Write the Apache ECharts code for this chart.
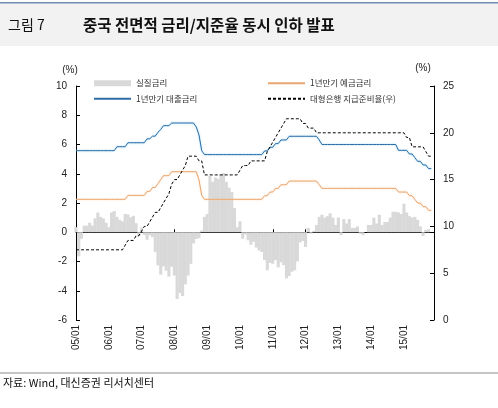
<!DOCTYPE html>
<html>
<head>
<meta charset="utf-8">
<script src="https://cdn.jsdelivr.net/npm/echarts@6.0.0/dist/echarts.min.js"></script>
<style>
  html, body { margin: 0; padding: 0; background: #fff; }
  #chart { width: 498px; height: 408px; }
</style>
</head>
<body>
<div id="chart"></div>
<script>
// 월별 데이터: 2005/01 ~ 2015/11 (2015/12 는 빈칸)
var years = ['05','06','07','08','09','10','11','12','13','14','15'];
var months = ['01','02','03','04','05','06','07','08','09','10','11','12'];

// 실질금리 (1년 예금금리 - CPI)
var realRate = [
  0.35, -1.65, -0.45, 0.45, 0.45, 0.65, 0.45, 0.95, 1.35, 1.05, 0.95, 0.65,
  0.35, 1.35, 1.45, 1.05, 0.85, 0.75, 1.25, 1.22, 1.02, 1.12, 0.62, -0.28,
  0.32, -0.18, -0.51, -0.21, -0.34, -1.34, -2.27, -2.90, -2.33, -2.63, -3.03, -2.36,
  -2.96, -4.56, -4.16, -4.36, -3.56, -2.96, -2.16, -0.76, -0.46, -0.40, 0.12, 1.05,
  1.25, 3.85, 3.45, 3.75, 3.65, 3.95, 4.05, 3.45, 3.05, 2.75, 1.65, 0.35,
  0.75, -0.45, -0.15, -0.55, -0.85, -0.65, -1.05, -1.25, -1.35, -1.90, -2.60, -2.10,
  -2.15, -1.90, -2.40, -2.05, -2.25, -3.15, -3.00, -2.70, -2.60, -2.00, -0.70, -0.60,
  -1.00, 0.30, -0.10, 0.10, 0.50, 1.05, 1.20, 1.00, 1.10, 1.30, 1.00, 0.50,
  1.00, -0.20, 0.90, 0.60, 0.90, 0.30, 0.30, 0.40, -0.10, -0.20, 0.00, 0.50,
  0.50, 1.00, 0.60, 1.20, 0.50, 0.70, 0.70, 1.00, 1.40, 1.40, 1.35, 1.25,
  1.95, 1.35, 1.10, 1.00, 1.05, 0.85, 0.40, -0.25, 0.15, 0.20, 0.00, null
];

// 1년만기 대출금리
var lendRate = [
  5.58, 5.58, 5.58, 5.58, 5.58, 5.58, 5.58, 5.58, 5.58, 5.58, 5.58, 5.58,
  5.58, 5.58, 5.58, 5.85, 5.85, 5.85, 5.85, 6.12, 6.12, 6.12, 6.12, 6.12,
  6.12, 6.12, 6.39, 6.39, 6.57, 6.57, 6.84, 7.02, 7.29, 7.29, 7.29, 7.47,
  7.47, 7.47, 7.47, 7.47, 7.47, 7.47, 7.47, 7.47, 7.20, 6.66, 5.58, 5.31,
  5.31, 5.31, 5.31, 5.31, 5.31, 5.31, 5.31, 5.31, 5.31, 5.31, 5.31, 5.31,
  5.31, 5.31, 5.31, 5.31, 5.31, 5.31, 5.31, 5.31, 5.31, 5.56, 5.56, 5.81,
  5.81, 6.06, 6.06, 6.31, 6.31, 6.31, 6.56, 6.56, 6.56, 6.56, 6.56, 6.56,
  6.56, 6.56, 6.56, 6.56, 6.56, 6.31, 6.00, 6.00, 6.00, 6.00, 6.00, 6.00,
  6.00, 6.00, 6.00, 6.00, 6.00, 6.00, 6.00, 6.00, 6.00, 6.00, 6.00, 6.00,
  6.00, 6.00, 6.00, 6.00, 6.00, 6.00, 6.00, 6.00, 6.00, 6.00, 5.60, 5.60,
  5.60, 5.60, 5.35, 5.35, 5.10, 4.85, 4.85, 4.60, 4.60, 4.35, 4.35, null
];

// 1년만기 예금금리
var depoRate = [
  2.25, 2.25, 2.25, 2.25, 2.25, 2.25, 2.25, 2.25, 2.25, 2.25, 2.25, 2.25,
  2.25, 2.25, 2.25, 2.25, 2.25, 2.25, 2.25, 2.52, 2.52, 2.52, 2.52, 2.52,
  2.52, 2.52, 2.79, 2.79, 3.06, 3.06, 3.33, 3.60, 3.87, 3.87, 3.87, 4.14,
  4.14, 4.14, 4.14, 4.14, 4.14, 4.14, 4.14, 4.14, 4.14, 3.60, 2.52, 2.25,
  2.25, 2.25, 2.25, 2.25, 2.25, 2.25, 2.25, 2.25, 2.25, 2.25, 2.25, 2.25,
  2.25, 2.25, 2.25, 2.25, 2.25, 2.25, 2.25, 2.25, 2.25, 2.50, 2.50, 2.75,
  2.75, 3.00, 3.00, 3.25, 3.25, 3.25, 3.50, 3.50, 3.50, 3.50, 3.50, 3.50,
  3.50, 3.50, 3.50, 3.50, 3.50, 3.25, 3.00, 3.00, 3.00, 3.00, 3.00, 3.00,
  3.00, 3.00, 3.00, 3.00, 3.00, 3.00, 3.00, 3.00, 3.00, 3.00, 3.00, 3.00,
  3.00, 3.00, 3.00, 3.00, 3.00, 3.00, 3.00, 3.00, 3.00, 3.00, 2.75, 2.75,
  2.75, 2.75, 2.50, 2.50, 2.25, 2.00, 2.00, 1.75, 1.75, 1.50, 1.50, null
];

// 대형은행 지급준비율 (우축)
var reserveRatio = [
  7.5, 7.5, 7.5, 7.5, 7.5, 7.5, 7.5, 7.5, 7.5, 7.5, 7.5, 7.5,
  7.5, 7.5, 7.5, 7.5, 7.5, 7.5, 8.0, 8.5, 8.5, 8.5, 9.0, 9.0,
  9.5, 10.0, 10.0, 10.5, 11.0, 11.5, 11.5, 12.0, 12.5, 13.0, 13.5, 14.5,
  15.0, 15.0, 15.5, 16.0, 16.5, 17.5, 17.5, 17.5, 17.5, 17.0, 17.0, 15.5,
  15.5, 15.5, 15.5, 15.5, 15.5, 15.5, 15.5, 15.5, 15.5, 15.5, 15.5, 15.5,
  16.0, 16.5, 16.5, 16.5, 17.0, 17.0, 17.0, 17.0, 17.0, 17.0, 18.0, 18.5,
  19.0, 19.5, 20.0, 20.5, 21.0, 21.5, 21.5, 21.5, 21.5, 21.5, 21.5, 21.0,
  21.0, 20.5, 20.5, 20.5, 20.0, 20.0, 20.0, 20.0, 20.0, 20.0, 20.0, 20.0,
  20.0, 20.0, 20.0, 20.0, 20.0, 20.0, 20.0, 20.0, 20.0, 20.0, 20.0, 20.0,
  20.0, 20.0, 20.0, 20.0, 20.0, 20.0, 20.0, 20.0, 20.0, 20.0, 20.0, 20.0,
  20.0, 19.5, 19.5, 18.5, 18.5, 18.5, 18.5, 18.5, 18.0, 17.5, 17.5, null
];

var categories = [];
for (var i = 0; i < years.length; i++) {
    for (var j = 0; j < months.length; j++) {
        categories.push(years[i] + '/' + months[j]);
    }
}

var KR = '"Noto Sans CJK KR", sans-serif';
var NUM = '"Liberation Sans", Arial, sans-serif';
var everyYear = function (idx) { return idx % 12 === 0; };
var noDot = { opacity: 0 };   // 범례 선 아이콘의 점 감추기

var chart = echarts.init(document.getElementById('chart'), null, { renderer: 'canvas' });

chart.setOption({
    animation: false,
    backgroundColor: '#fff',
    graphic: [
        // 상단 제목 띠
        { type: 'rect', left: 0, top: 3, shape: { width: 498, height: 43 }, style: { fill: '#f2f2f2' }, silent: true },
        { type: 'rect', left: 0, top: 2, shape: { width: 498, height: 1.5 }, style: { fill: '#6f8fb3' }, silent: true },
        { type: 'text', left: 8, top: 18, style: { text: '그림 7', font: '14px ' + KR, fill: '#111' } },
        { type: 'text', left: 83, top: 17, style: { text: '중국 전면적 금리/지준율 동시 인하 발표', font: 'bold 15.5px ' + KR, fill: '#111' } },
        // 하단 출처
        { type: 'rect', left: 0, top: 372.5, shape: { width: 498, height: 1 }, style: { fill: '#8c8c8c' }, silent: true },
        { type: 'text', left: 3, top: 377, style: { text: '자료: Wind, 대신증권 리서치센터', font: '11px ' + KR, fill: '#111' } }
    ],
    legend: [
        {
            left: 88, top: 74, orient: 'vertical', itemWidth: 37, itemHeight: 6, itemGap: 7,
            textStyle: { fontFamily: KR, fontSize: 8.5, color: '#333' },
            data: [
                { name: '실질금리', icon: 'rect' },
                { name: '1년만기 대출금리', itemStyle: noDot }
            ]
        },
        {
            left: 262, top: 74, orient: 'vertical', itemWidth: 37, itemHeight: 6, itemGap: 7,
            textStyle: { fontFamily: KR, fontSize: 8.5, color: '#333' },
            data: [
                { name: '1년만기 예금금리', itemStyle: noDot },
                { name: '대형은행 지급준비율(우)', itemStyle: noDot }
            ]
        }
    ],
    grid: { left: 76, right: 64, top: 86, bottom: 88, containLabel: false },
    xAxis: [
        {
            type: 'category', data: categories, boundaryGap: false,
            axisLine: { onZero: true, lineStyle: { color: '#000', width: 1 } },
            axisTick: { inside: true, length: 3, interval: everyYear, lineStyle: { color: '#000' } },
            axisLabel: { show: false },
            splitLine: { show: false }
        },
        {
            type: 'category', data: categories, boundaryGap: false, position: 'bottom',
            axisLine: { show: false, onZero: false },
            axisTick: { show: false },
            axisLabel: {
                interval: everyYear, rotate: 90, margin: 5,
                fontFamily: NUM, fontSize: 10, color: '#222'
            }
        }
    ],
    yAxis: [
        {
            type: 'value', min: -6, max: 10, interval: 2,
            name: '(%)', nameGap: 11,
            nameTextStyle: { fontFamily: NUM, fontSize: 10, color: '#222', padding: [0, 12, 0, 0] },
            axisLine: { show: true, lineStyle: { color: '#000', width: 1 } },
            axisTick: { show: true, inside: true, length: 4, lineStyle: { color: '#000' } },
            axisLabel: { fontFamily: NUM, fontSize: 10, color: '#222', margin: 9 },
            splitLine: { show: false }
        },
        {
            type: 'value', min: 0, max: 25, interval: 5, position: 'right',
            name: '(%)', nameGap: 13,
            nameTextStyle: { fontFamily: NUM, fontSize: 10, color: '#222', padding: [0, 22, 0, 0] },
            axisLine: { show: true, lineStyle: { color: '#000', width: 1 } },
            axisTick: { show: true, inside: true, length: 4, lineStyle: { color: '#000' } },
            axisLabel: { fontFamily: NUM, fontSize: 10, color: '#222', margin: 9 },
            splitLine: { show: false }
        }
    ],
    series: [
        {
            name: '실질금리', type: 'bar', data: realRate,
            xAxisIndex: 0, yAxisIndex: 0,
            barWidth: 3.1,
            itemStyle: { color: '#d9d9d9' },
            z: 1
        },
        {
            name: '1년만기 예금금리', type: 'line', data: depoRate,
            xAxisIndex: 0, yAxisIndex: 0, symbol: 'none',
            lineStyle: { color: '#eba66f', width: 1, shadowColor: 'rgba(248,210,175,0.9)', shadowBlur: 2 },
            itemStyle: { color: '#eba66f' },
            z: 3
        },
        {
            name: '1년만기 대출금리', type: 'line', data: lendRate,
            xAxisIndex: 0, yAxisIndex: 0, symbol: 'none',
            lineStyle: { color: '#2d6ca6', width: 1, shadowColor: 'rgba(130,205,240,0.9)', shadowBlur: 2 },
            itemStyle: { color: '#2d6ca6' },
            z: 3
        },
        {
            name: '대형은행 지급준비율(우)', type: 'line', data: reserveRatio,
            xAxisIndex: 0, yAxisIndex: 1, symbol: 'none',
            lineStyle: { color: '#000', width: 1, type: [3, 2] },
            itemStyle: { color: '#000' },
            z: 4
        }
    ]
});
</script>
</body>
</html>
